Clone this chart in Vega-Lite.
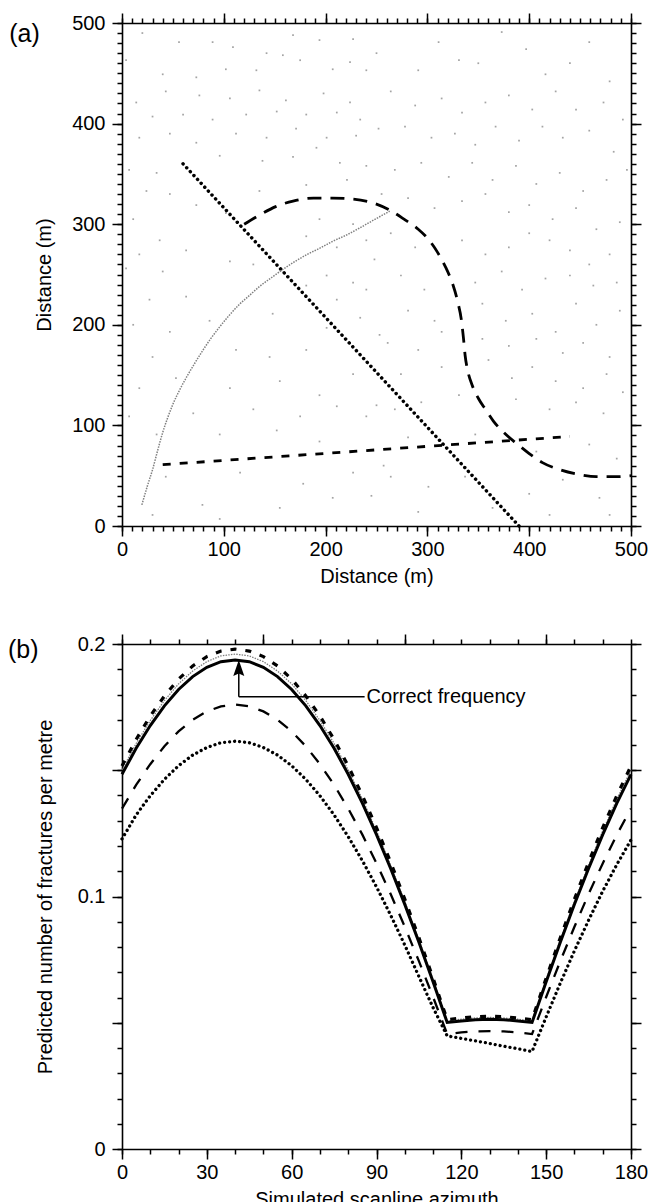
{
"$schema": "https://vega.github.io/schema/vega-lite/v6.json",
"background": "white",
"padding": {"left": 8, "top": 12, "right": 0, "bottom": 0},
"bounds": "flush",
"spacing": 118,
"config": {
  "font": "Liberation Sans",
  "view": {"stroke": null},
  "axis": {"domainColor": "black", "domainWidth": 1.6, "tickColor": "black", "tickWidth": 1.5, "labelFont": "Liberation Sans", "labelFontSize": 20, "labelColor": "black", "titleFont": "Liberation Sans", "titleFontSize": 20, "titleFontWeight": "normal", "titleColor": "black", "grid": false, "labelFlush": false, "labelOverlap": false}
},
"datasets": {
  "fractures": [
    {"x":20,"y":490},{"x":56,"y":481},{"x":89,"y":481},{"x":109,"y":476},{"x":142,"y":470},{"x":158,"y":468},{"x":168,"y":488},{"x":194,"y":483},{"x":227,"y":484},{"x":4,"y":463},{"x":40,"y":449},{"x":73,"y":446},{"x":102,"y":454},{"x":132,"y":453},{"x":175,"y":463},{"x":207,"y":454},{"x":224,"y":461},{"x":240,"y":453},{"x":14,"y":421},{"x":43,"y":432},{"x":76,"y":428},{"x":106,"y":425},{"x":135,"y":433},{"x":161,"y":423},{"x":198,"y":430},{"x":224,"y":421},{"x":30,"y":407},{"x":60,"y":409},{"x":89,"y":404},{"x":122,"y":409},{"x":152,"y":412},{"x":181,"y":409},{"x":211,"y":411},{"x":234,"y":404},{"x":17,"y":386},{"x":47,"y":390},{"x":73,"y":381},{"x":112,"y":390},{"x":142,"y":386},{"x":171,"y":395},{"x":201,"y":386},{"x":230,"y":388},{"x":7,"y":354},{"x":34,"y":351},{"x":96,"y":368},{"x":138,"y":363},{"x":168,"y":367},{"x":191,"y":376},{"x":214,"y":361},{"x":240,"y":358},{"x":24,"y":333},{"x":47,"y":330},{"x":135,"y":333},{"x":181,"y":339},{"x":221,"y":344},{"x":11,"y":305},{"x":73,"y":319},{"x":102,"y":311},{"x":194,"y":305},{"x":227,"y":300},{"x":37,"y":284},{"x":17,"y":270},{"x":63,"y":274},{"x":181,"y":288},{"x":211,"y":277},{"x":240,"y":284},{"x":4,"y":256},{"x":40,"y":253},{"x":106,"y":263},{"x":129,"y":260},{"x":201,"y":249},{"x":227,"y":242},{"x":27,"y":225},{"x":63,"y":228},{"x":181,"y":239},{"x":211,"y":225},{"x":240,"y":235},{"x":11,"y":200},{"x":47,"y":193},{"x":86,"y":204},{"x":148,"y":211},{"x":201,"y":197},{"x":234,"y":207},{"x":30,"y":168},{"x":112,"y":175},{"x":145,"y":168},{"x":181,"y":175},{"x":227,"y":179},{"x":17,"y":137},{"x":53,"y":147},{"x":106,"y":137},{"x":155,"y":144},{"x":194,"y":130},{"x":227,"y":151},{"x":7,"y":109},{"x":70,"y":112},{"x":129,"y":116},{"x":175,"y":109},{"x":211,"y":119},{"x":240,"y":109},{"x":34,"y":91},{"x":96,"y":91},{"x":152,"y":95},{"x":194,"y":84},{"x":43,"y":49},{"x":116,"y":53},{"x":178,"y":42},{"x":227,"y":53},{"x":79,"y":21},{"x":155,"y":18},{"x":207,"y":28},{"x":30,"y":11},{"x":96,"y":7},
    {"x":250,"y":470},{"x":252,"y":395},{"x":255,"y":330},{"x":248,"y":265},{"x":253,"y":190},{"x":250,"y":120},{"x":257,"y":60},{"x":245,"y":30},
    {"x":291,"y":453},{"x":311,"y":481},{"x":331,"y":463},{"x":350,"y":460},{"x":373,"y":491},{"x":397,"y":474},{"x":416,"y":449},{"x":440,"y":460},{"x":459,"y":481},{"x":479,"y":442},{"x":264,"y":432},{"x":288,"y":418},{"x":314,"y":425},{"x":334,"y":411},{"x":357,"y":421},{"x":380,"y":428},{"x":403,"y":414},{"x":426,"y":432},{"x":446,"y":414},{"x":473,"y":421},{"x":492,"y":404},{"x":278,"y":397},{"x":304,"y":386},{"x":327,"y":390},{"x":347,"y":379},{"x":367,"y":397},{"x":390,"y":383},{"x":413,"y":397},{"x":433,"y":386},{"x":459,"y":393},{"x":483,"y":372},{"x":268,"y":354},{"x":294,"y":361},{"x":321,"y":347},{"x":344,"y":361},{"x":364,"y":344},{"x":387,"y":358},{"x":407,"y":340},{"x":430,"y":351},{"x":453,"y":333},{"x":476,"y":344},{"x":496,"y":354},{"x":281,"y":326},{"x":307,"y":316},{"x":334,"y":323},{"x":357,"y":330},{"x":380,"y":312},{"x":400,"y":319},{"x":423,"y":305},{"x":446,"y":316},{"x":466,"y":295},{"x":489,"y":302},{"x":264,"y":291},{"x":288,"y":277},{"x":334,"y":284},{"x":357,"y":270},{"x":380,"y":277},{"x":400,"y":291},{"x":420,"y":284},{"x":440,"y":274},{"x":459,"y":260},{"x":479,"y":270},{"x":274,"y":249},{"x":297,"y":235},{"x":347,"y":242},{"x":373,"y":253},{"x":393,"y":235},{"x":416,"y":246},{"x":440,"y":249},{"x":463,"y":239},{"x":486,"y":242},{"x":281,"y":214},{"x":307,"y":204},{"x":354,"y":221},{"x":377,"y":204},{"x":403,"y":211},{"x":426,"y":193},{"x":446,"y":221},{"x":466,"y":200},{"x":489,"y":214},{"x":261,"y":182},{"x":291,"y":175},{"x":314,"y":193},{"x":354,"y":186},{"x":380,"y":179},{"x":407,"y":186},{"x":433,"y":172},{"x":453,"y":182},{"x":479,"y":168},{"x":274,"y":151},{"x":314,"y":158},{"x":360,"y":165},{"x":383,"y":147},{"x":403,"y":158},{"x":426,"y":144},{"x":453,"y":137},{"x":476,"y":151},{"x":268,"y":116},{"x":294,"y":123},{"x":331,"y":130},{"x":387,"y":126},{"x":420,"y":116},{"x":446,"y":123},{"x":473,"y":112},{"x":492,"y":133},{"x":281,"y":88},{"x":347,"y":91},{"x":407,"y":74},{"x":459,"y":81},{"x":486,"y":67},{"x":264,"y":49},{"x":301,"y":39},{"x":337,"y":49},{"x":400,"y":32},{"x":433,"y":46},{"x":469,"y":28},{"x":291,"y":14},{"x":364,"y":18},{"x":420,"y":11},{"x":479,"y":11}
  ],
  "scan": [
    {"line":"dot","i":0,"x":60,"y":360},{"line":"dot","i":1,"x":390,"y":0},
    {"line":"short","i":0,"x":40,"y":61},{"line":"short","i":1,"x":440,"y":89},
    {"line":"long","i":0,"x":120,"y":300},{"line":"long","i":1,"x":135,"y":309},{"line":"long","i":2,"x":151,"y":317.5},{"line":"long","i":3,"x":168,"y":323},{"line":"long","i":4,"x":188,"y":326},{"line":"long","i":5,"x":207,"y":326},{"line":"long","i":6,"x":227,"y":325},{"line":"long","i":7,"x":247,"y":321},{"line":"long","i":8,"x":263,"y":314},{"line":"long","i":9,"x":277,"y":305},{"line":"long","i":10,"x":291,"y":295},{"line":"long","i":11,"x":301,"y":285},{"line":"long","i":12,"x":310,"y":272},{"line":"long","i":13,"x":318,"y":257},{"line":"long","i":14,"x":325,"y":240},{"line":"long","i":15,"x":330,"y":222},{"line":"long","i":16,"x":333.5,"y":204},{"line":"long","i":17,"x":335.5,"y":186},{"line":"long","i":18,"x":337,"y":170},{"line":"long","i":19,"x":339.5,"y":155},{"line":"long","i":20,"x":344,"y":140},{"line":"long","i":21,"x":350,"y":127},{"line":"long","i":22,"x":357,"y":116},{"line":"long","i":23,"x":365,"y":104},{"line":"long","i":24,"x":375,"y":93},{"line":"long","i":25,"x":387,"y":82.5},{"line":"long","i":26,"x":400,"y":72},{"line":"long","i":27,"x":413,"y":63},{"line":"long","i":28,"x":430,"y":56},{"line":"long","i":29,"x":450,"y":51},{"line":"long","i":30,"x":466,"y":49},{"line":"long","i":31,"x":486,"y":49},{"line":"long","i":32,"x":500,"y":50},
    {"line":"arc","i":0,"x":19.5,"y":21},{"line":"arc","i":1,"x":25,"y":40},{"line":"arc","i":2,"x":30,"y":56},{"line":"arc","i":3,"x":35,"y":75},{"line":"arc","i":4,"x":40,"y":93},{"line":"arc","i":5,"x":45,"y":108},{"line":"arc","i":6,"x":50,"y":121},{"line":"arc","i":7,"x":57,"y":136},{"line":"arc","i":8,"x":64,"y":149},{"line":"arc","i":9,"x":71,"y":161},{"line":"arc","i":10,"x":79,"y":174},{"line":"arc","i":11,"x":87,"y":186},{"line":"arc","i":12,"x":96,"y":198},{"line":"arc","i":13,"x":105,"y":209},{"line":"arc","i":14,"x":115,"y":220},{"line":"arc","i":15,"x":125,"y":229},{"line":"arc","i":16,"x":135,"y":238},{"line":"arc","i":17,"x":147,"y":247},{"line":"arc","i":18,"x":158,"y":255},{"line":"arc","i":19,"x":170,"y":263},{"line":"arc","i":20,"x":182,"y":270},{"line":"arc","i":21,"x":194,"y":276},{"line":"arc","i":22,"x":207,"y":283},{"line":"arc","i":23,"x":220,"y":289},{"line":"arc","i":24,"x":233,"y":296},{"line":"arc","i":25,"x":247,"y":304},{"line":"arc","i":26,"x":263,"y":313}
  ],
  "freq": [
    {"a":0,"solid":0.1484,"dash":0.1517,"thin":0.1501,"long":0.1348,"dot":0.1228},
    {"a":5,"solid":0.1587,"dash":0.1622,"thin":0.1606,"long":0.1442,"dot":0.1323},
    {"a":10,"solid":0.1677,"dash":0.1715,"thin":0.1697,"long":0.1524,"dot":0.1399},
    {"a":15,"solid":0.1755,"dash":0.1794,"thin":0.1776,"long":0.1595,"dot":0.1464},
    {"a":20,"solid":0.1820,"dash":0.1861,"thin":0.1842,"long":0.1654,"dot":0.1518},
    {"a":25,"solid":0.1871,"dash":0.1913,"thin":0.1893,"long":0.1700,"dot":0.1560},
    {"a":30,"solid":0.1908,"dash":0.1950,"thin":0.1930,"long":0.1733,"dot":0.1590},
    {"a":35,"solid":0.1930,"dash":0.1972,"thin":0.1953,"long":0.1753,"dot":0.1609},
    {"a":40,"solid":0.1937,"dash":0.1980,"thin":0.1960,"long":0.1760,"dot":0.1615},
    {"a":45,"solid":0.1930,"dash":0.1972,"thin":0.1953,"long":0.1753,"dot":0.1609},
    {"a":50,"solid":0.1908,"dash":0.1950,"thin":0.1930,"long":0.1733,"dot":0.1590},
    {"a":55,"solid":0.1871,"dash":0.1913,"thin":0.1893,"long":0.1700,"dot":0.1560},
    {"a":60,"solid":0.1820,"dash":0.1861,"thin":0.1842,"long":0.1654,"dot":0.1518},
    {"a":65,"solid":0.1755,"dash":0.1794,"thin":0.1776,"long":0.1595,"dot":0.1464},
    {"a":70,"solid":0.1677,"dash":0.1715,"thin":0.1697,"long":0.1524,"dot":0.1399},
    {"a":75,"solid":0.1587,"dash":0.1622,"thin":0.1606,"long":0.1442,"dot":0.1323},
    {"a":80,"solid":0.1484,"dash":0.1517,"thin":0.1501,"long":0.1348,"dot":0.1237},
    {"a":85,"solid":0.1370,"dash":0.1400,"thin":0.1386,"long":0.1245,"dot":0.1142},
    {"a":90,"solid":0.1245,"dash":0.1273,"thin":0.1260,"long":0.1131,"dot":0.1038},
    {"a":95,"solid":0.1111,"dash":0.1136,"thin":0.1124,"long":0.1010,"dot":0.0926},
    {"a":100,"solid":0.0969,"dash":0.0990,"thin":0.0980,"long":0.0880,"dot":0.0808},
    {"a":105,"solid":0.0819,"dash":0.0837,"thin":0.0828,"long":0.0744,"dot":0.0683},
    {"a":110,"solid":0.0662,"dash":0.0677,"thin":0.0670,"long":0.0602,"dot":0.0560},
    {"a":115,"solid":0.0501,"dash":0.0512,"thin":0.0507,"long":0.0455,"dot":0.0448},
    {"a":120,"solid":0.0507,"dash":0.0519,"thin":0.0514,"long":0.0462,"dot":0.0438},
    {"a":125,"solid":0.0512,"dash":0.0524,"thin":0.0519,"long":0.0466,"dot":0.0428},
    {"a":130,"solid":0.0514,"dash":0.0526,"thin":0.0521,"long":0.0467,"dot":0.0418},
    {"a":135,"solid":0.0512,"dash":0.0524,"thin":0.0519,"long":0.0466,"dot":0.0407},
    {"a":140,"solid":0.0507,"dash":0.0519,"thin":0.0514,"long":0.0462,"dot":0.0397},
    {"a":145,"solid":0.0501,"dash":0.0512,"thin":0.0507,"long":0.0455,"dot":0.0386},
    {"a":150,"solid":0.0662,"dash":0.0677,"thin":0.0670,"long":0.0602,"dot":0.0523},
    {"a":155,"solid":0.0819,"dash":0.0837,"thin":0.0828,"long":0.0744,"dot":0.0657},
    {"a":160,"solid":0.0969,"dash":0.0990,"thin":0.0980,"long":0.0880,"dot":0.0785},
    {"a":165,"solid":0.1111,"dash":0.1136,"thin":0.1124,"long":0.1010,"dot":0.0906},
    {"a":170,"solid":0.1245,"dash":0.1273,"thin":0.1260,"long":0.1131,"dot":0.1021},
    {"a":175,"solid":0.1370,"dash":0.1400,"thin":0.1386,"long":0.1245,"dot":0.1127},
    {"a":180,"solid":0.1484,"dash":0.1517,"thin":0.1501,"long":0.1348,"dot":0.1224}
  ],
  "arrowLines": [
    {"x":41.3,"y":0.1791,"x2":85.8,"y2":0.1791},
    {"x":41.3,"y":0.1791,"x2":41.3,"y2":0.1885}
  ]
},
"vconcat": [
  {
    "width": 509, "height": 503,
    "layer": [
      {
        "data": {"name": "fractures"},
        "mark": {"type": "point", "shape": "square", "filled": true, "size": 3, "color": "#9a9a9a", "opacity": 0.9},
        "encoding": {
          "x": {"field": "x", "type": "quantitative", "scale": {"domain": [0, 500], "nice": false, "zero": false},
                "axis": {"orient": "bottom", "values": [0,100,200,300,400,500], "format": "d", "tickSize": 10, "labelPadding": 3, "title": "Distance (m)", "titlePadding": 7}},
          "y": {"field": "y", "type": "quantitative", "scale": {"domain": [0, 500], "nice": false, "zero": false},
                "axis": {"orient": "left", "values": [0,100,200,300,400,500], "format": "d", "tickSize": 10, "labelPadding": 7, "title": "Distance (m)", "titlePadding": 17}}
        }
      },
      {
        "data": {"name": "scan"},
        "transform": [{"filter": "datum.line === 'dot'"}],
        "mark": {"type": "line", "stroke": "black", "strokeWidth": 3.5, "strokeCap": "round", "strokeDash": [0.01, 5.3]},
        "encoding": {
          "x": {"field": "x", "type": "quantitative", "axis": {"orient": "bottom", "values": [0,10,20,30,40,50,60,70,80,90,100,110,120,130,140,150,160,170,180,190,200,210,220,230,240,250,260,270,280,290,300,310,320,330,340,350,360,370,380,390,400,410,420,430,440,450,460,470,480,490,500], "tickSize": 5, "labels": false, "domain": false, "title": null}},
          "y": {"field": "y", "type": "quantitative", "axis": {"orient": "left", "values": [0,10,20,30,40,50,60,70,80,90,100,110,120,130,140,150,160,170,180,190,200,210,220,230,240,250,260,270,280,290,300,310,320,330,340,350,360,370,380,390,400,410,420,430,440,450,460,470,480,490,500], "tickSize": 5, "labels": false, "domain": false, "title": null}},
          "order": {"field": "i", "type": "quantitative"}
        }
      },
      {
        "data": {"name": "scan"},
        "transform": [{"filter": "datum.line === 'long'"}],
        "mark": {"type": "line", "stroke": "black", "strokeWidth": 2.8, "strokeDash": [14, 9], "interpolate": "monotone"},
        "encoding": {
          "x": {"field": "x", "type": "quantitative", "axis": {"orient": "top", "values": [0,100,200,300,400,500], "tickSize": 10, "labels": false, "title": null}},
          "y": {"field": "y", "type": "quantitative", "axis": {"orient": "right", "values": [0,100,200,300,400,500], "tickSize": 10, "labels": false, "title": null}},
          "order": {"field": "i", "type": "quantitative"}
        }
      },
      {
        "data": {"name": "scan"},
        "transform": [{"filter": "datum.line === 'arc'"}],
        "mark": {"type": "line", "stroke": "#808080", "strokeWidth": 1.5, "strokeDash": [1.5, 1.2], "interpolate": "monotone"},
        "encoding": {
          "x": {"field": "x", "type": "quantitative", "axis": {"orient": "top", "values": [0,10,20,30,40,50,60,70,80,90,100,110,120,130,140,150,160,170,180,190,200,210,220,230,240,250,260,270,280,290,300,310,320,330,340,350,360,370,380,390,400,410,420,430,440,450,460,470,480,490,500], "tickSize": 5, "labels": false, "domain": false, "title": null}},
          "y": {"field": "y", "type": "quantitative", "axis": {"orient": "right", "values": [0,10,20,30,40,50,60,70,80,90,100,110,120,130,140,150,160,170,180,190,200,210,220,230,240,250,260,270,280,290,300,310,320,330,340,350,360,370,380,390,400,410,420,430,440,450,460,470,480,490,500], "tickSize": 5, "labels": false, "domain": false, "title": null}},
          "order": {"field": "i", "type": "quantitative"}
        }
      },
      {
        "data": {"name": "scan"},
        "transform": [{"filter": "datum.line === 'short'"}],
        "mark": {"type": "line", "stroke": "black", "strokeWidth": 2.8, "strokeDash": [8, 9]},
        "encoding": {
          "x": {"field": "x", "type": "quantitative", "axis": null},
          "y": {"field": "y", "type": "quantitative", "axis": null},
          "order": {"field": "i", "type": "quantitative"}
        }
      },
      {
        "data": {"values": [{"label": "(a)"}]},
        "mark": {"type": "text", "align": "left", "baseline": "alphabetic", "fontSize": 25, "font": "Liberation Sans", "color": "black"},
        "encoding": {
          "x": {"datum": -110.8, "type": "quantitative", "axis": null},
          "y": {"datum": 481, "type": "quantitative", "axis": null},
          "text": {"field": "label"}
        }
      }
    ],
    "resolve": {"axis": {"x": "independent", "y": "independent"}}
  },
  {
    "width": 509, "height": 505,
    "layer": [
      {
        "data": {"name": "freq"},
        "mark": {"type": "line", "stroke": "black", "strokeWidth": 3.3, "strokeCap": "round", "strokeDash": [0.01, 5]},
        "encoding": {
          "x": {"field": "a", "type": "quantitative", "scale": {"domain": [0, 180], "nice": false, "zero": false},
                "axis": {"orient": "bottom", "values": [0,30,60,90,120,150,180], "format": "d", "tickSize": 10, "labelPadding": 3, "title": "Simulated scanline azimuth", "titlePadding": 7}},
          "y": {"field": "dot", "type": "quantitative", "scale": {"domain": [0, 0.2], "nice": false, "zero": false},
                "axis": {"orient": "left", "values": [0,0.05,0.1,0.15,0.2], "labelExpr": "datum.value === 0 ? '0' : (datum.value === 0.1 ? '0.1' : (datum.value === 0.2 ? '0.2' : ''))", "tickSize": 10, "labelPadding": 7, "title": "Predicted number of fractures per metre", "titlePadding": 22}}
        }
      },
      {
        "data": {"name": "freq"},
        "mark": {"type": "line", "stroke": "black", "strokeWidth": 2.3, "strokeDash": [12, 11]},
        "encoding": {
          "x": {"field": "a", "type": "quantitative", "axis": {"orient": "bottom", "values": [0,10,20,30,40,50,60,70,80,90,100,110,120,130,140,150,160,170,180], "tickSize": 5, "labels": false, "domain": false, "title": null}},
          "y": {"field": "long", "type": "quantitative", "axis": {"orient": "left", "values": [0,0.01,0.02,0.03,0.04,0.05,0.06,0.07,0.08,0.09,0.1,0.11,0.12,0.13,0.14,0.15,0.16,0.17,0.18,0.19,0.2], "tickSize": 5, "labels": false, "domain": false, "title": null}}
        }
      },
      {
        "data": {"name": "freq"},
        "mark": {"type": "line", "stroke": "#808080", "strokeWidth": 1.3, "strokeDash": [1.5, 1.2]},
        "encoding": {
          "x": {"field": "a", "type": "quantitative", "axis": {"orient": "top", "values": [0,50,100,150], "tickSize": 10, "labels": false, "title": null}},
          "y": {"field": "thin", "type": "quantitative", "axis": {"orient": "right", "values": [0,0.05,0.1,0.15,0.2], "tickSize": 10, "labels": false, "title": null}}
        }
      },
      {
        "data": {"name": "freq"},
        "mark": {"type": "line", "stroke": "black", "strokeWidth": 3.2, "strokeDash": [6, 9]},
        "encoding": {
          "x": {"field": "a", "type": "quantitative", "axis": {"orient": "top", "values": [0,10,20,30,40,50,60,70,80,90,100,110,120,130,140,150,160,170,180], "tickSize": 5, "labels": false, "domain": false, "title": null}},
          "y": {"field": "dash", "type": "quantitative", "axis": {"orient": "right", "values": [0,0.01,0.02,0.03,0.04,0.05,0.06,0.07,0.08,0.09,0.1,0.11,0.12,0.13,0.14,0.15,0.16,0.17,0.18,0.19,0.2], "tickSize": 5, "labels": false, "domain": false, "title": null}}
        }
      },
      {
        "data": {"name": "freq"},
        "mark": {"type": "line", "stroke": "black", "strokeWidth": 3},
        "encoding": {
          "x": {"field": "a", "type": "quantitative", "axis": null},
          "y": {"field": "solid", "type": "quantitative", "axis": null}
        }
      },
      {
        "data": {"name": "arrowLines"},
        "mark": {"type": "rule", "stroke": "black", "strokeWidth": 1.5},
        "encoding": {
          "x": {"field": "x", "type": "quantitative", "axis": null},
          "x2": {"field": "x2"},
          "y": {"field": "y", "type": "quantitative", "axis": null},
          "y2": {"field": "y2"}
        }
      },
      {
        "data": {"values": [{"tip": "arrow"}]},
        "mark": {"type": "point", "shape": "M0,-1L0.45,0.3L0,0.1L-0.45,0.3Z", "filled": true, "color": "black", "opacity": 1, "size": 600},
        "encoding": {
          "x": {"datum": 41.3, "type": "quantitative", "axis": null},
          "y": {"datum": 0.1888, "type": "quantitative", "axis": null}
        }
      },
      {
        "data": {"values": [{"label": "Correct frequency"}]},
        "mark": {"type": "text", "align": "left", "baseline": "middle", "fontSize": 20, "font": "Liberation Sans", "color": "black"},
        "encoding": {
          "x": {"datum": 86.5, "type": "quantitative", "axis": null},
          "y": {"datum": 0.1791, "type": "quantitative", "axis": null},
          "text": {"field": "label"}
        }
      },
      {
        "data": {"values": [{"label": "(b)"}]},
        "mark": {"type": "text", "align": "left", "baseline": "alphabetic", "fontSize": 25, "font": "Liberation Sans", "color": "black"},
        "encoding": {
          "x": {"datum": -40.3, "type": "quantitative", "axis": null},
          "y": {"datum": 0.1945, "type": "quantitative", "axis": null},
          "text": {"field": "label"}
        }
      }
    ],
    "resolve": {"axis": {"x": "independent", "y": "independent"}}
  }
]
}
